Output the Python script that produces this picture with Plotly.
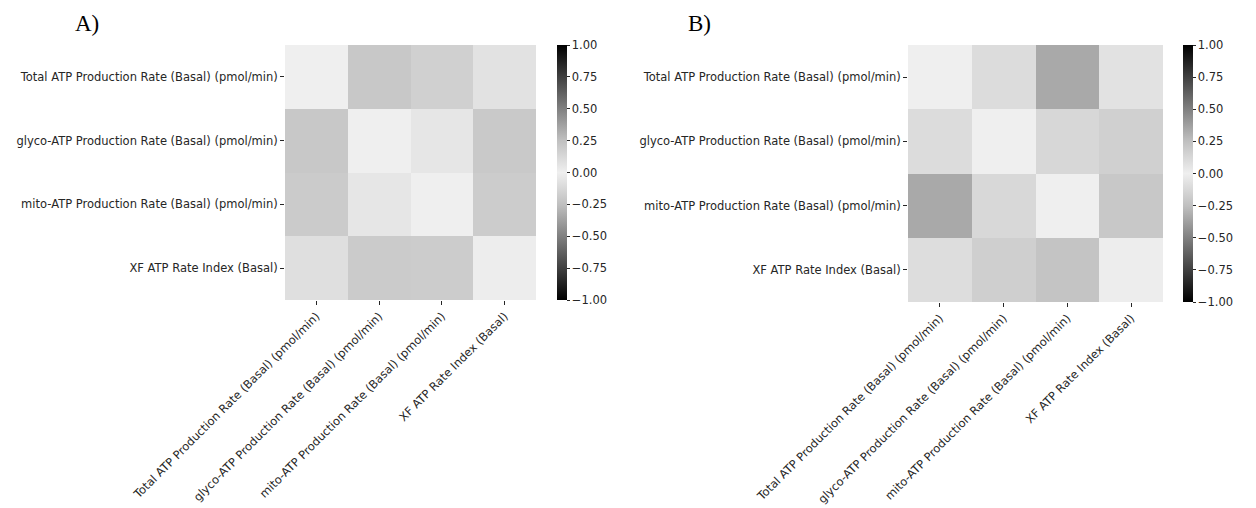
import plotly.graph_objects as go

labels = [
    "Total ATP Production Rate (Basal) (pmol/min)",
    "glyco-ATP Production Rate (Basal) (pmol/min)",
    "mito-ATP Production Rate (Basal) (pmol/min)",
    "XF ATP Rate Index (Basal)",
]

values_a = [
    [0.00, 0.21, 0.165, 0.07],
    [0.21, 0.00, 0.05, 0.20],
    [0.19, 0.05, 0.00, 0.185],
    [0.085, 0.19, 0.185, 0.01],
]

values_b = [
    [0.00, 0.10, 0.34, 0.07],
    [0.10, 0.00, 0.13, 0.165],
    [0.34, 0.12, 0.00, 0.21],
    [0.095, 0.17, 0.23, 0.01],
]

cb_ticks = [-1.0, -0.75, -0.5, -0.25, 0.0, 0.25, 0.5, 0.75, 1.0]

W, H = 1256, 508
OFF = 8  # page body margin
colorscale = [
    [0.0, "#000000"],
    [0.125, "#404040"],
    [0.25, "#808080"],
    [0.375, "#c0c0c0"],
    [0.5, "#efefef"],
    [0.625, "#c0c0c0"],
    [0.75, "#808080"],
    [0.875, "#404040"],
    [1.0, "#000000"],
]

font = dict(family="DejaVu Sans", size=11.5, color="#262626")


def px_x(v):
    return (v - OFF) / W


def px_y(v):
    return 1 - (v - OFF) / H


fig = go.Figure()

panels = [
    (values_a, (285, 536), (45, 300), 557, "x", "y"),
    (values_b, (908, 1163), (45, 302), 1183, "x2", "y2"),
]

for i, (vals, (xl, xr), (yt, yb), cbx, xa, ya) in enumerate(panels):
    fig.add_trace(go.Heatmap(
        z=vals, x=labels, y=labels,
        colorscale=colorscale, zmin=-1, zmax=1,
        xaxis=xa, yaxis=ya,
        colorbar=dict(
            x=px_x(cbx), xanchor="left", xref="paper", xpad=0, ypad=0,
            y=px_y((yt + yb) / 2), yanchor="middle",
            len=(yb - yt) / H, lenmode="fraction",
            thickness=10, outlinewidth=0,
            tickvals=cb_ticks, tickformat=".2f",
            ticks="outside", ticklen=3, tickcolor="#262626",
            tickfont=font,
        ),
    ))
    suffix = "" if i == 0 else "2"
    fig.update_layout(**{
        "xaxis" + suffix: dict(
            domain=[px_x(xl), px_x(xr)], anchor=ya, automargin=False,
            tickangle=-45, ticks="outside", ticklen=4, tickcolor="#262626",
            tickfont=font, showgrid=False, zeroline=False, showline=False,
        ),
        "yaxis" + suffix: dict(
            domain=[px_y(yb), px_y(yt)], anchor=xa, automargin=False,
            autorange="reversed", ticks="outside", ticklen=4, tickcolor="#262626",
            tickfont=font, showgrid=False, zeroline=False, showline=False,
        ),
    })

fig.add_annotation(text="A)", x=px_x(73), y=px_y(9), xref="paper", yref="paper",
                   xanchor="left", yanchor="top", showarrow=False, yshift=0,
                   font=dict(family="Liberation Serif", size=23, color="#000000"))
fig.add_annotation(text="B)", x=px_x(686), y=px_y(9), xref="paper", yref="paper",
                   xanchor="left", yanchor="top", showarrow=False,
                   font=dict(family="Liberation Serif", size=23, color="#000000"))

fig.update_layout(
    width=W, height=H,
    margin=dict(l=0, r=0, t=0, b=0, autoexpand=False),
    paper_bgcolor="white", plot_bgcolor="white",
    showlegend=False,
)

fig.write_html("out.html")
